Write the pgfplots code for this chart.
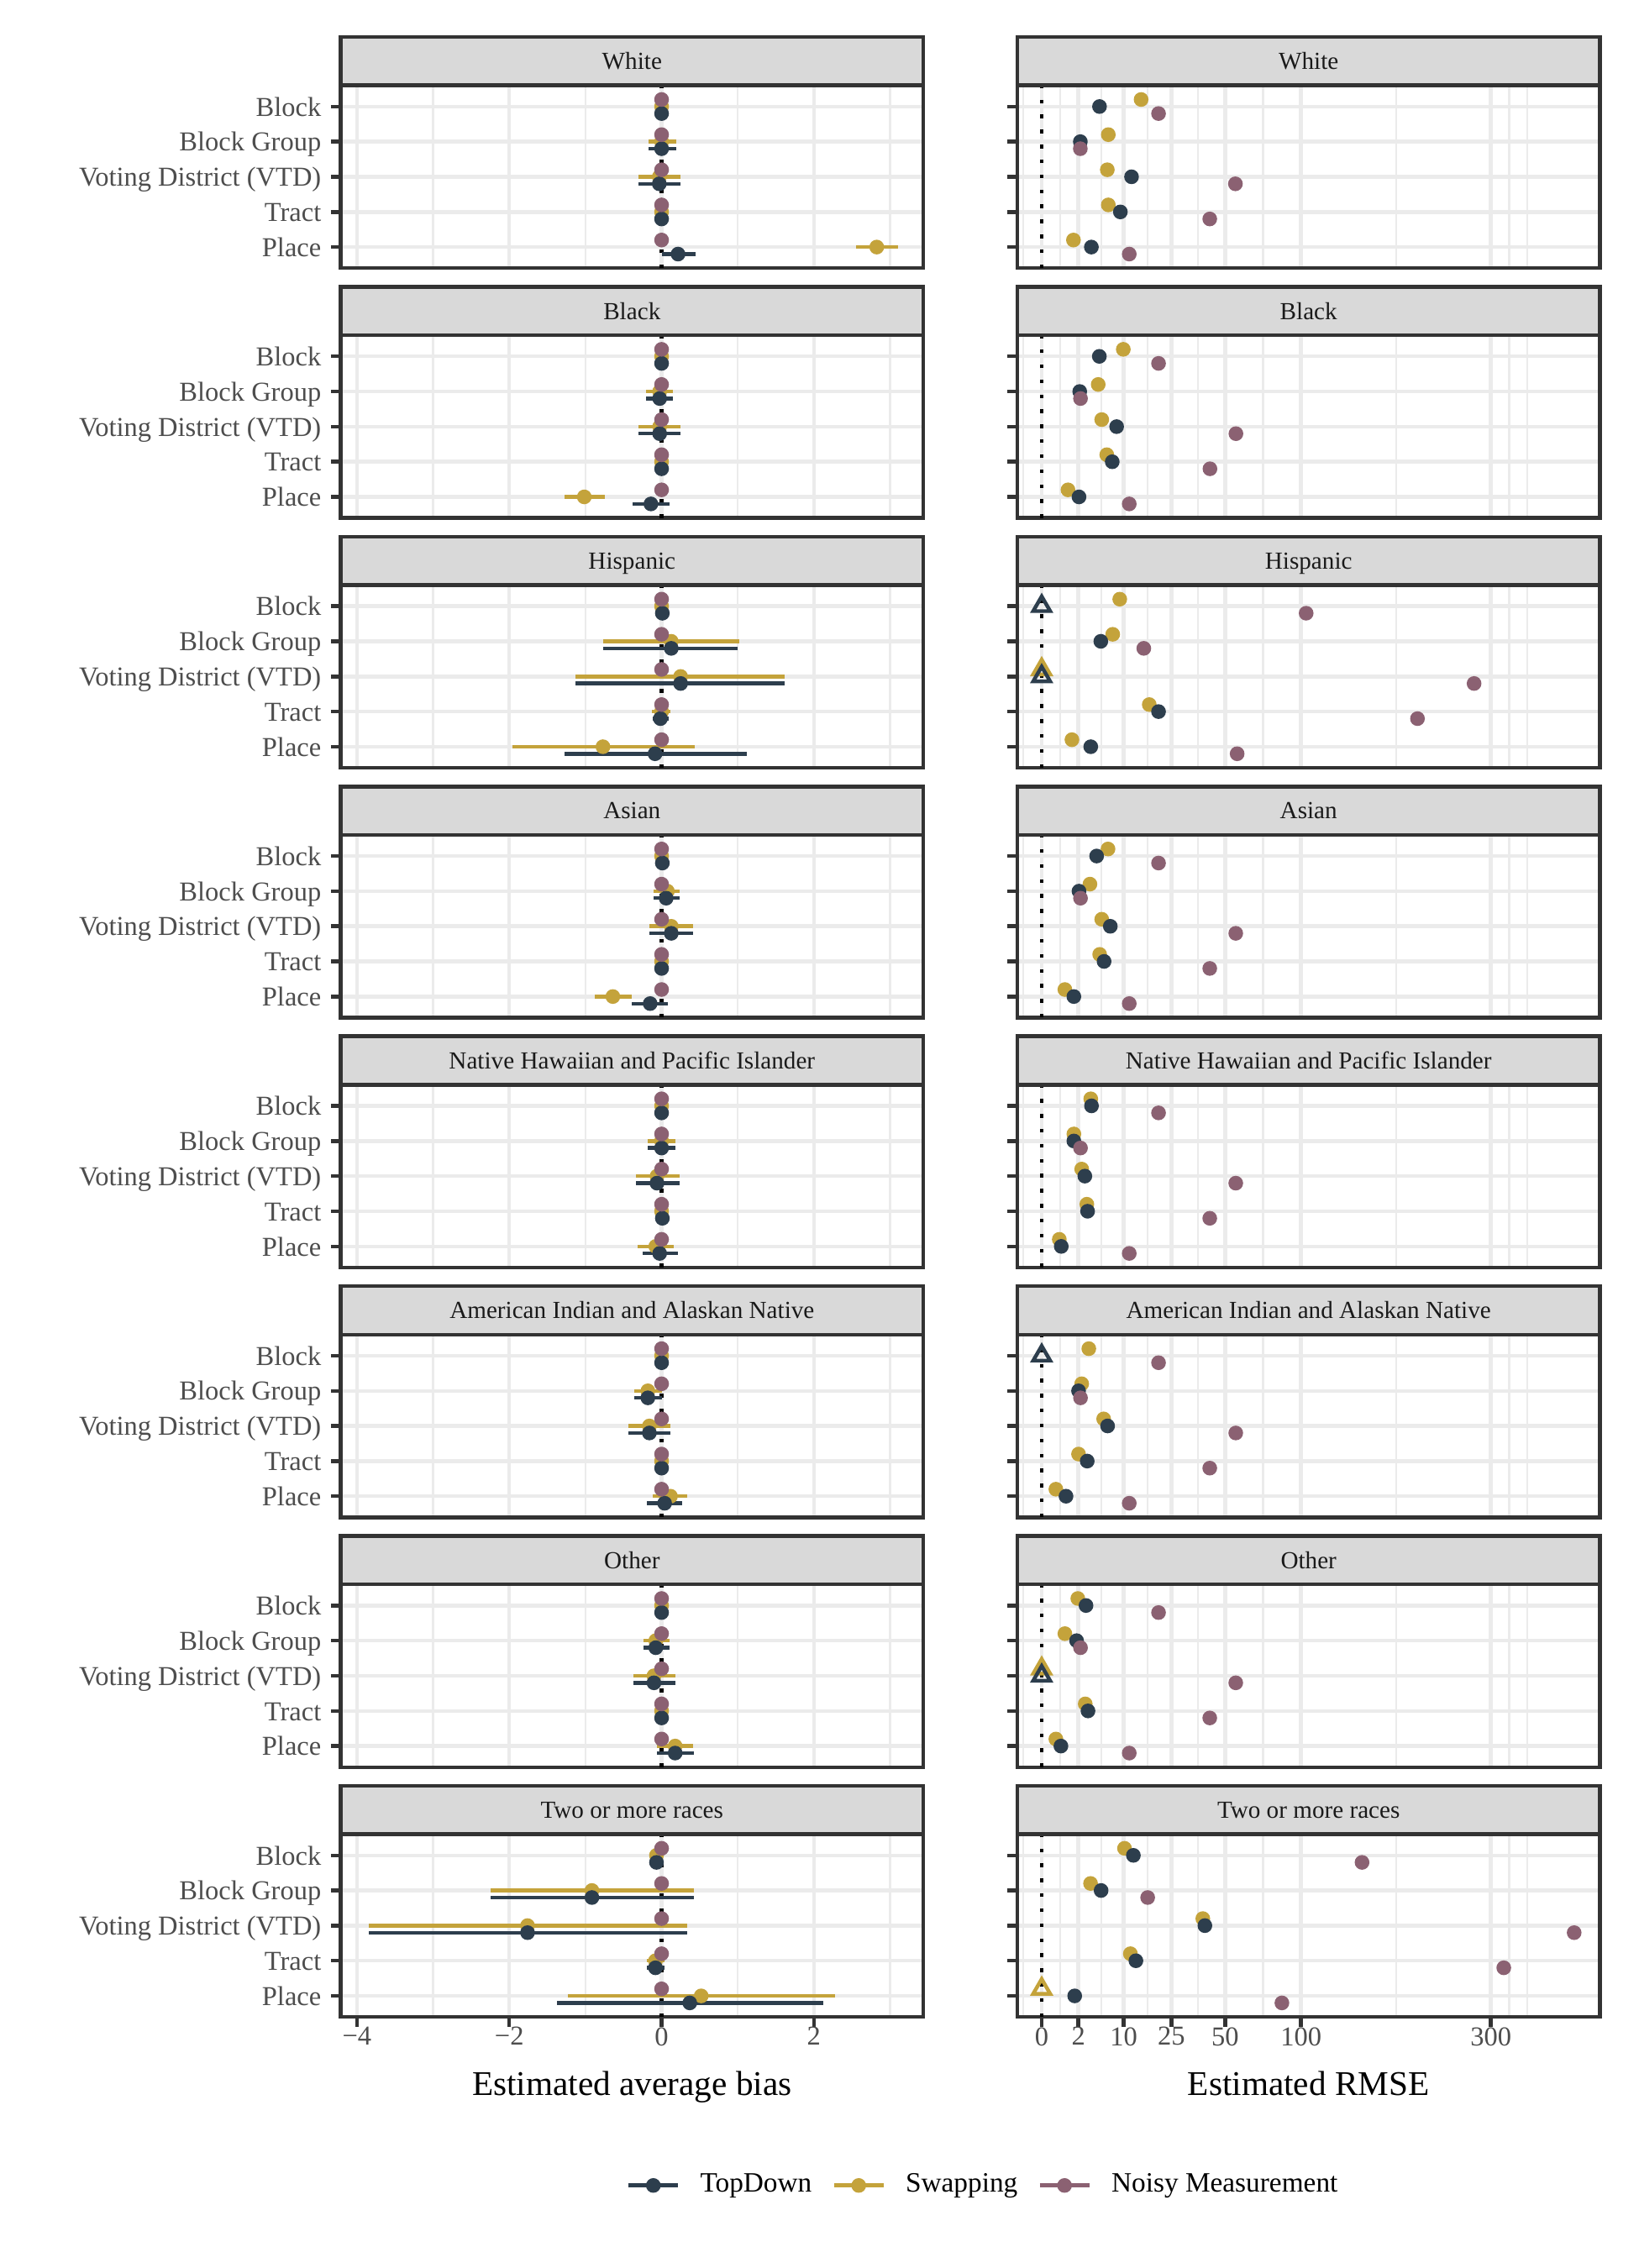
\documentclass[border=0pt]{standalone}
\usepackage{fontspec}
\setmainfont{Liberation Serif}
\usepackage{pgfplots}
\usepackage{pgfplotstable}
\pgfplotsset{compat=1.18}

\definecolor{tdcol}{HTML}{2D3E4D}
\definecolor{swcol}{HTML}{C4A33B}
\definecolor{nmcol}{HTML}{8B6172}
\definecolor{grey10}{HTML}{1A1A1A}
\definecolor{grey20}{HTML}{333333}
\definecolor{grey30}{HTML}{4D4D4D}
\definecolor{grey85}{HTML}{D9D9D9}
\definecolor{grey92}{HTML}{EBEBEB}

% y: 5 Block, 4 Block Group, 3 VTD, 2 Tract, 1 Place
% td/sw/nm = average bias (lo, hi = interval), *r = RMSE
\pgfplotstableread{
y td tdlo tdhi sw swlo swhi nm tdr swr nmr
5 0 0 0 0 0 0 0 4.97 14.7 20.3
4 0 -0.17 0.19 0 -0.17 0.19 0 2.22 6.6 2.22
3 -0.03 -0.30 0.245 -0.03 -0.30 0.245 0 12.0 6.4 55.8
2 0 0 0 0 0 0 0 9.2 6.6 42.0
1 0.216 0 0.45 2.825 2.55 3.11 0 3.67 1.5 11.4
}\tblwhite
\pgfplotstableread{
y td tdlo tdhi sw swlo swhi nm tdr swr nmr
5 0 0 0 0 0 0 0 4.94 9.9 20.3
4 -0.025 -0.2 0.15 -0.025 -0.2 0.15 0 2.15 4.75 2.24
3 -0.025 -0.30 0.25 -0.025 -0.30 0.25 0 8.35 5.36 56.1
2 0 0 0 0 0 0 0 7.4 6.3 42.1
1 -0.14 -0.38 0.10 -1.015 -1.27 -0.75 0 2.07 1.03 11.4
}\tblblack
\pgfplotstableread{
y td tdlo tdhi sw swlo swhi nm tdr swr nmr
5 0.01 0.01 0.01 0 0 0 0 0 9.06 104
4 0.127 -0.77 1.0 0.127 -0.77 1.015 0 5.2 7.5 15.5
3 0.25 -1.13 1.62 0.25 -1.13 1.62 0 0 0 278
2 -0.015 -0.12 0.09 0 -0.13 0.12 0 20.3 17.2 210
1 -0.086 -1.27 1.12 -0.77 -1.96 0.43 0 3.58 1.36 56.8
}\tblhispanic
\pgfplotstableread{
y td tdlo tdhi sw swlo swhi nm tdr swr nmr
5 0.01 0.01 0.01 0 0 0 0 4.49 6.54 20.3
4 0.06 -0.11 0.24 0.076 -0.11 0.24 0 2.07 3.46 2.24
3 0.127 -0.16 0.41 0.127 -0.16 0.41 0 7.0 5.36 56
2 0 0 0 0 0 0 0 5.79 5.0 42
1 -0.15 -0.39 0.08 -0.64 -0.88 -0.39 0 1.54 0.80 11.4
}\tblasian
\pgfplotstableread{
y td tdlo tdhi sw swlo swhi nm tdr swr nmr
5 0 0 0 0 0 0 0 3.69 3.58 20.3
4 0 -0.18 0.18 0 -0.18 0.18 0 1.54 1.54 2.24
3 -0.06 -0.335 0.235 -0.06 -0.335 0.235 0 2.77 2.38 56
2 0.01 0.01 0.01 0 0 0 0 3.13 3.03 42
1 -0.025 -0.25 0.21 -0.076 -0.31 0.16 0 0.57 0.46 11.4
}\tblnhpi
\pgfplotstableread{
y td tdlo tdhi sw swlo swhi nm tdr swr nmr
5 0 0 0 0 0 0 0 0 3.3 20.3
4 -0.18 -0.355 0 -0.18 -0.355 0 0 2.02 2.38 2.24
3 -0.16 -0.44 0.12 -0.16 -0.44 0.12 0 6.46 5.71 56
2 0 0 0 0 0 0 0 3.08 2.02 42
1 0.04 -0.19 0.27 0.117 -0.12 0.34 0 0.88 0.30 11.4
}\tblaian
\pgfplotstableread{
y td tdlo tdhi sw swlo swhi nm tdr swr nmr
5 0 0 0 0 0 0 0 2.92 1.94 20.3
4 -0.076 -0.24 0.11 -0.076 -0.24 0.11 0 1.81 0.80 2.24
3 -0.10 -0.365 0.18 -0.10 -0.365 0.18 0 0 0 56
2 0 0 0 0 0 0 0 3.19 2.82 42
1 0.178 -0.056 0.42 0.178 -0.06 0.41 0 0.55 0.30 11.4
}\tblother
\pgfplotstableread{
y td tdlo tdhi sw swlo swhi nm tdr swr nmr
5 -0.067 -0.1 -0.03 -0.067 -0.1 -0.03 0 12.5 10.2 152.6
4 -0.915 -2.25 0.42 -0.915 -2.25 0.42 0 5.25 3.55 16.7
3 -1.76 -3.85 0.335 -1.76 -3.85 0.335 0 39.6 38.6 421.6
2 -0.08 -0.19 0.04 -0.08 -0.19 0.04 0 13.2 11.7 317.5
1 0.37 -1.37 2.12 0.52 -1.23 2.28 0 1.62 0 85.8
}\tbltwoplus

\tikzset{zeroline/.style={black, line width=1.07bp, dash pattern=on 1.07bp off 3.21bp}}

\pgfplotsset{
  panel/.style={
    scale only axis, width=166.5bp, height=52.2bp,
    anchor=south west,
    ymin=0.4, ymax=5.6, ytick={1,2,3,4,5},
    axis line style={draw=grey20, line width=1.07bp},
    tick align=outside, xtick pos=bottom, ytick pos=left,
    major tick length=2.75bp, minor tick length=0pt,
    y tick style={draw=grey20, line width=1.07bp},
    xmajorgrids=true, xminorgrids=true, ymajorgrids=true,
    major grid style={draw=grey92, line width=1.07bp},
    minor grid style={draw=grey92, line width=0.53bp},
    ticklabel style={font=\fontsize{7.8bp}{9.4bp}\selectfont, text=grey30},
    yticklabel style={anchor=base east, inner sep=0pt, yshift=-2.7bp, xshift=-2.6bp},
    xticklabel style={anchor=north, inner sep=0pt},
    every axis title/.style={at={(axis description cs:0.5,1)}, anchor=south,
      fill=grey85, draw=grey20, line width=1.07bp,
      minimum width=166.5bp, minimum height=13.85bp,
      inner sep=0pt, outer sep=0pt, text height=4.7bp, text depth=0pt,
      font=\fontsize{7bp}{8bp}\selectfont, text=grey10},
    every axis x label/.style={at={(axis description cs:0.5,0)}, anchor=base,
      yshift=-22.4bp, inner sep=0pt, font=\fontsize{9.9bp}{12bp}\selectfont},
  },
  biaspanel/.style={panel, xmin=-4.215, xmax=3.438, xtick={-4,-2,0,2},
    minor xtick={-3,-1,1,3},
    yticklabels={Place,Tract,Voting District (VTD),Block Group,Block}},
  rmsepanel/.style={panel, xmin=-0.944, xmax=21.53,
    xtick={0,1.41421,3.16228,5,7.07107,10,17.32051},
    minor xtick={-0.70711,0.70711,2.28825,4.08114,6.03553,8.53553,13.66025,18.02776,18.73497},
    yticklabels={}},
  innerbias/.style={xticklabels={}, x tick style={draw=none}},
  innerrmse/.style={xticklabels={}, x tick style={draw=none}},
  bottombias/.style={xticklabels={−4,−2,0,2},
    x tick style={draw=grey20, line width=1.07bp},
    xlabel={Estimated average bias}},
  bottomrmse/.style={xticklabels={0,2,10,25,50,100,300},
    x tick style={draw=grey20, line width=1.07bp},
    xlabel={Estimated RMSE}},
  dot/.style={only marks, mark=*, mark size=1.9bp, mark options={draw=none}},
  tri/.style={only marks, mark=triangle, mark size=2.8bp,
    mark options={line width=1.07bp, fill=none}},
  ebar/.style={error bars/x dir=both, error bars/x explicit,
    error bars/error mark=none,
    error bars/error bar style={line width=1.07bp}},
}

\newcommand{\race}[4]{%
\begin{axis}[biaspanel, #4bias, at={(97.3bp,{-76.61bp-71.38bp*#3})}, title={#2}]
  \draw[zeroline] (axis cs:0,0.4) -- (axis cs:0,5.6);
  \addplot[swcol, dot, ebar] table[x=sw, y=y,
    x error plus expr=\thisrow{swhi}-\thisrow{sw},
    x error minus expr=\thisrow{sw}-\thisrow{swlo}] {#1};
  \addplot[tdcol, dot, ebar] table[x=td, y expr=\thisrow{y}-0.2,
    x error plus expr=\thisrow{tdhi}-\thisrow{td},
    x error minus expr=\thisrow{td}-\thisrow{tdlo}] {#1};
  \addplot[nmcol, dot] table[x=nm, y expr=\thisrow{y}+0.2] {#1};
\end{axis}
\begin{axis}[rmsepanel, #4rmse, at={(290.6bp,{-76.61bp-71.38bp*#3})}, title={#2}]
  \draw[zeroline] (axis cs:0,0.4) -- (axis cs:0,5.6);
  \addplot[swcol, dot, restrict x to domain=0.0001:1000]
    table[x expr={sqrt(\thisrow{swr})}, y expr=\thisrow{y}+0.2] {#1};
  \addplot[swcol, tri, restrict x to domain=-0.0001:0.0001]
    table[x expr={sqrt(\thisrow{swr})}, y expr=\thisrow{y}+0.2] {#1};
  \addplot[tdcol, dot, restrict x to domain=0.0001:1000]
    table[x expr={sqrt(\thisrow{tdr})}, y=y] {#1};
  \addplot[tdcol, tri, restrict x to domain=-0.0001:0.0001]
    table[x expr={sqrt(\thisrow{tdr})}, y=y] {#1};
  \addplot[nmcol, dot]
    table[x expr={sqrt(\thisrow{nmr})}, y expr=\thisrow{y}-0.2] {#1};
\end{axis}}

\begin{document}
\begin{tikzpicture}
\useasboundingbox (0,0) rectangle (468bp,-648bp);
\race{\tblwhite}{White}{0}{inner}
\race{\tblblack}{Black}{1}{inner}
\race{\tblhispanic}{Hispanic}{2}{inner}
\race{\tblasian}{Asian}{3}{inner}
\race{\tblnhpi}{Native Hawaiian and Pacific Islander}{4}{inner}
\race{\tblaian}{American Indian and Alaskan Native}{5}{inner}
\race{\tblother}{Other}{6}{inner}
\race{\tbltwoplus}{Two or more races}{7}{bottom}
\begin{axis}[hide axis, scale only axis, width=468bp, height=648bp,
  at={(0bp,-648bp)}, anchor=south west, xmin=0, xmax=1, ymin=0, ymax=1,
  legend columns=3,
  legend style={at={(0.5996,0.0364)}, anchor=center, draw=none, fill=none,
    inner sep=0pt, nodes={inner sep=0pt},
    font=\fontsize{8bp}{9.6bp}\selectfont,
    /tikz/every odd column/.append style={column sep=5.8bp},
    /tikz/every even column/.append style={column sep=5.8bp}},
  legend image code/.code={%
    \draw[#1, line width=1.1bp] (0bp,0bp) -- (14.1bp,0bp);
    \fill[#1] (7.05bp,0bp) circle[radius=1.9bp];}]
  \addlegendimage{tdcol}
  \addlegendentry{TopDown}
  \addlegendimage{swcol}
  \addlegendentry{Swapping}
  \addlegendimage{nmcol}
  \addlegendentry{Noisy Measurement}
\end{axis}
\end{tikzpicture}
\end{document}
